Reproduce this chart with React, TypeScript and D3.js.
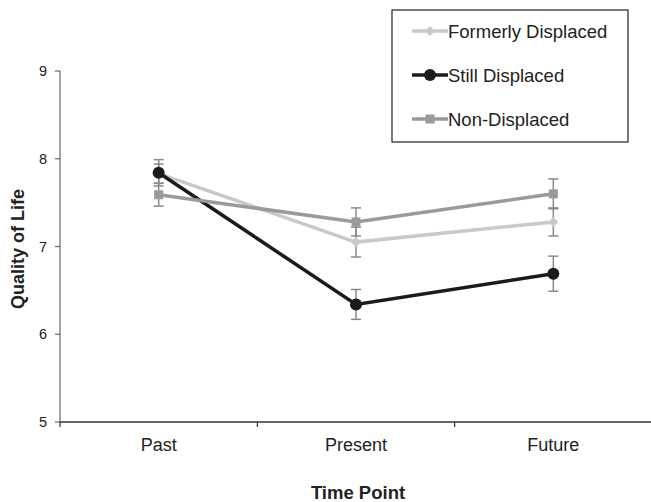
import * as d3 from "d3";

const timePoints = ["Past", "Present", "Future"];
const seriesNames = ["Formerly Displaced", "Still Displaced", "Non-Displaced"];
const formerlyMeans = [7.83, 7.05, 7.28];
const formerlyErr = [0.11, 0.17, 0.16];
const stillMeans = [7.84, 6.34, 6.69];
const stillErr = [0.15, 0.17, 0.2];
const nonMeans = [7.59, 7.28, 7.6];
const nonErr = [0.13, 0.16, 0.17];
const yTicks = [5, 6, 7, 8, 9];

const W = 651;
const H = 502;
const font = "'Liberation Sans', Arial, sans-serif";

export default function App() {
  const x = d3.scaleBand().domain(timePoints).range([60, 652]);
  const y = d3.scaleLinear().domain([5, 9]).range([422, 71]);
  const cx = (t: string) => (x(t) as number) + x.bandwidth() / 2;

  const series = [
    { name: seriesNames[0], means: formerlyMeans, err: formerlyErr, color: "#c9c9c9", marker: "diamond" },
    { name: seriesNames[1], means: stillMeans, err: stillErr, color: "#1c1a1b", marker: "circle" },
    { name: seriesNames[2], means: nonMeans, err: nonErr, color: "#9a9a9a", marker: "square" },
  ];

  const line = d3
    .line<number>()
    .x((_, i) => cx(timePoints[i]))
    .y((d) => y(d));

  const marker = (kind: string, px: number, py: number, color: string, key?: string) => {
    if (kind === "circle") return <circle key={key} cx={px} cy={py} r={6} fill={color} />;
    if (kind === "square") return <rect key={key} x={px - 4.5} y={py - 4.5} width={9} height={9} fill={color} />;
    return (
      <path
        key={key}
        d={`M${px},${py - 5}L${px + 5},${py}L${px},${py + 5}L${px - 5},${py}Z`}
        fill={color}
      />
    );
  };

  return (
    <svg
      width={W}
      height={H}
      style={{ position: "absolute", left: 0, top: 0, background: "#fff" }}
      fontFamily={font}
    >
      {/* y axis */}
      <line x1={60} x2={60} y1={71} y2={422} stroke="#666" strokeWidth={1.2} />
      {yTicks.map((t) => (
        <g key={t}>
          <line x1={55} x2={60} y1={y(t)} y2={y(t)} stroke="#666" strokeWidth={1.2} />
          <text x={47} y={y(t)} dy="0.35em" textAnchor="end" fontSize={14.5} fill="#222">
            {t}
          </text>
        </g>
      ))}
      {/* x axis */}
      <line x1={60} x2={W} y1={422} y2={422} stroke="#333" strokeWidth={1.3} />
      {[...timePoints.map((t) => x(t) as number), 652].map((v, i) => (
        <line key={i} x1={v} x2={v} y1={422} y2={427} stroke="#333" strokeWidth={1.2} />
      ))}
      {timePoints.map((t) => (
        <text key={t} x={cx(t)} y={451} textAnchor="middle" fontSize={18} fill="#222">
          {t}
        </text>
      ))}
      <text x={358} y={499} textAnchor="middle" fontSize={18.5} fontWeight="bold" fill="#222">
        Time Point
      </text>
      <text
        transform={`translate(24,249) rotate(-90)`}
        textAnchor="middle"
        fontSize={18}
        fontWeight="bold"
        fill="#222"
      >
        Quality of Life
      </text>

      {series.map((s) => (
        <g key={s.name}>
          <path d={line(s.means) || ""} fill="none" stroke={s.color} strokeWidth={3.5} />
          {s.means.map((m, i) => {
            const px = cx(timePoints[i]);
            const hi = y(m + s.err[i]);
            const lo = y(m - s.err[i]);
            return (
              <g key={i} stroke="#8a8a8a" strokeWidth={1.5}>
                <line x1={px} x2={px} y1={hi} y2={lo} />
                <line x1={px - 5} x2={px + 5} y1={hi} y2={hi} />
                <line x1={px - 5} x2={px + 5} y1={lo} y2={lo} />
              </g>
            );
          })}
          {s.means.map((m, i) => marker(s.marker, cx(timePoints[i]), y(m), s.color, String(i)))}
        </g>
      ))}

      {/* legend */}
      <rect x={392} y={10} width={236} height={132} fill="#fff" stroke="#222" strokeWidth={1.2} />
      {series.map((s, i) => {
        const ly = 31 + i * 44;
        return (
          <g key={s.name}>
            <line x1={412} x2={448} y1={ly} y2={ly} stroke={s.color} strokeWidth={3.5} />
            {marker(s.marker, 430, ly, s.color)}
            <text x={448} y={ly} dy="0.36em" fontSize={18.5} fill="#222">
              {s.name}
            </text>
          </g>
        );
      })}
    </svg>
  );
}
